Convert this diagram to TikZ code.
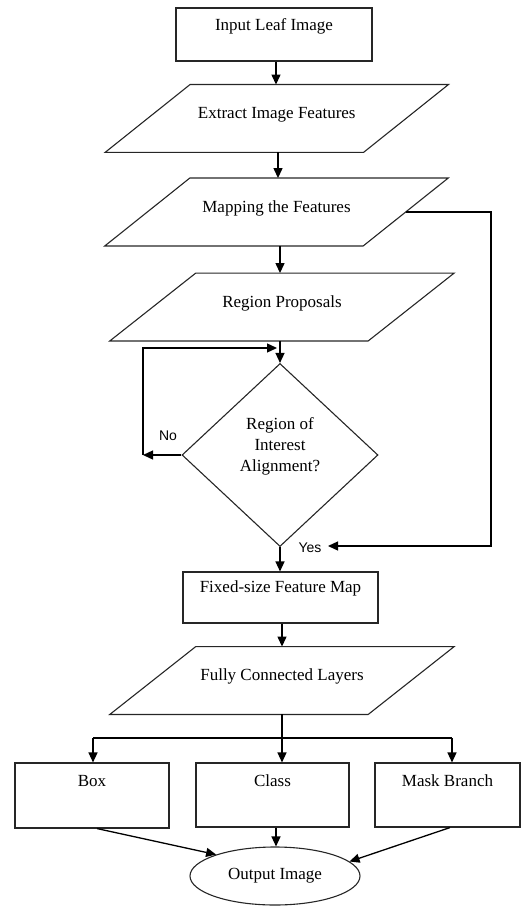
\documentclass[tikz,border=0pt]{standalone}
\usepackage{fontspec}
\setmainfont{Liberation Serif}
\newfontfamily\yesnofont{Liberation Sans}
\usetikzlibrary{arrows.meta,shapes.geometric,calc}
\begin{document}
\begin{tikzpicture}[x=1pt,y=-1pt,
  txt/.style={font=\fontsize{17}{21}\selectfont},
  boxnode/.style={draw=black!85,line width=1.1pt,rectangle,inner sep=0pt,txt},
  paranode/.style={rectangle,inner xsep=0pt,inner ysep=0pt,minimum width=258pt,text height=34pt,text depth=33.5pt,txt},
  parashape/.style={draw=black!85,line width=1.1pt},
  decnode/.style={diamond,draw=black!85,line width=1.1pt,inner sep=0pt,minimum width=196pt,minimum height=183pt},
  arr/.style={line width=1.3pt,-{Triangle[length=10pt,width=9pt]}},
  conn/.style={line width=1.3pt},
  yn/.style={font=\yesnofont\fontsize{14}{16}\selectfont}
]
\useasboundingbox (0,0) rectangle (521,909);

% nodes
\node[boxnode,minimum width=196pt,text height=22.5pt,text depth=30.5pt] (inp) at (274,34.5) {Input Leaf Image};

\node[paranode] (ext) at (276.75,118.5) {Extract Image Features};
\draw[parashape] ([xshift=42.5pt]ext.north west) -- ([xshift=42.5pt]ext.north east) -- ([xshift=-42.5pt]ext.south east) -- ([xshift=-42.5pt]ext.south west) -- cycle;

\node[paranode] (map) at (276.5,212) {Mapping the Features};
\draw[parashape] ([xshift=42.5pt]map.north west) -- ([xshift=42.5pt]map.north east) -- ([xshift=-42.5pt]map.south east) -- ([xshift=-42.5pt]map.south west) -- cycle;

\node[paranode] (reg) at (282,307) {Region Proposals};
\draw[parashape] ([xshift=43pt]reg.north west) -- ([xshift=43pt]reg.north east) -- ([xshift=-43pt]reg.south east) -- ([xshift=-43pt]reg.south west) -- cycle;

\node[decnode,label={[name=diat,txt,align=center,yshift=9pt]center:Region of\\Interest\\Alignment?}] (dia) at (280,455) {};

\node[boxnode,minimum width=195pt,text height=20.5pt,text depth=30.5pt] (fix) at (280.5,597.5) {Fixed-size Feature Map};

\node[paranode] (fcl) at (282,680.5) {Fully Connected Layers};
\draw[parashape] ([xshift=43pt]fcl.north west) -- ([xshift=43pt]fcl.north east) -- ([xshift=-43pt]fcl.south east) -- ([xshift=-43pt]fcl.south west) -- cycle;

\node[boxnode,minimum width=154pt,text height=23.5pt,text depth=41.5pt] (box) at (92,795.5) {Box};
\node[boxnode,minimum width=153pt,text height=23.5pt,text depth=40.5pt] (cls) at (272.5,795) {Class};
\node[boxnode,minimum width=145pt,text height=23.5pt,text depth=40.5pt] (msk) at (447.5,795) {Mask Branch};

\node[ellipse,draw=black!85,line width=1.1pt,minimum width=170pt,minimum height=58pt,inner sep=0pt,txt] (out) at (275,876) {Output Image};

% labels
\node[yn] (no) at (168,436) {No};
\node[yn] (yes) at (310,548) {Yes};

% coordinates
\coordinate (nol) at (143,455);
\coordinate (loopend) at (277,348);
\coordinate (mapr) at (491,212);
\coordinate (yesr) at (491,546);
\coordinate (yesend) at (328,546);
\coordinate (split) at (282,738);
\coordinate (bl) at (93,738);
\coordinate (br) at (452,738);

% connectors
\draw[arr] (inp.south -| 276,0) -- (ext.north -| 276,0);
\draw[arr] (ext.south -| 278,0) -- (map.north -| 278,0);
\draw[arr] (map.south -| 280,0) -- (reg.north -| 280,0);
\draw[arr] (dia.north |- reg.south) -- (dia.north);
\draw[arr] (dia.west) -- (nol);
\draw[arr] (nol) |- (loopend);
\draw[arr] (map.east) -- (mapr) -- (yesr) -- (yesend);
\draw[arr] (dia.south) -- (dia.south |- fix.north);
\draw[arr] (fcl.north |- fix.south) -- (fcl.north);
\draw[conn] (fcl.south) -- (split);
\draw[conn] (bl) -- (br);
\draw[arr] (bl) -- (bl |- box.north);
\draw[arr] (split) -- (split |- cls.north);
\draw[arr] (br) -- (br |- msk.north);
\draw[arr] ([xshift=5pt]box.south) -- (out.160);
\draw[arr] ([xshift=3.5pt]cls.south) -- ([xshift=3.5pt]cls.south |- out.north);
\draw[arr] ([xshift=2.5pt]msk.south) -- (out.11);
\end{tikzpicture}
\end{document}
